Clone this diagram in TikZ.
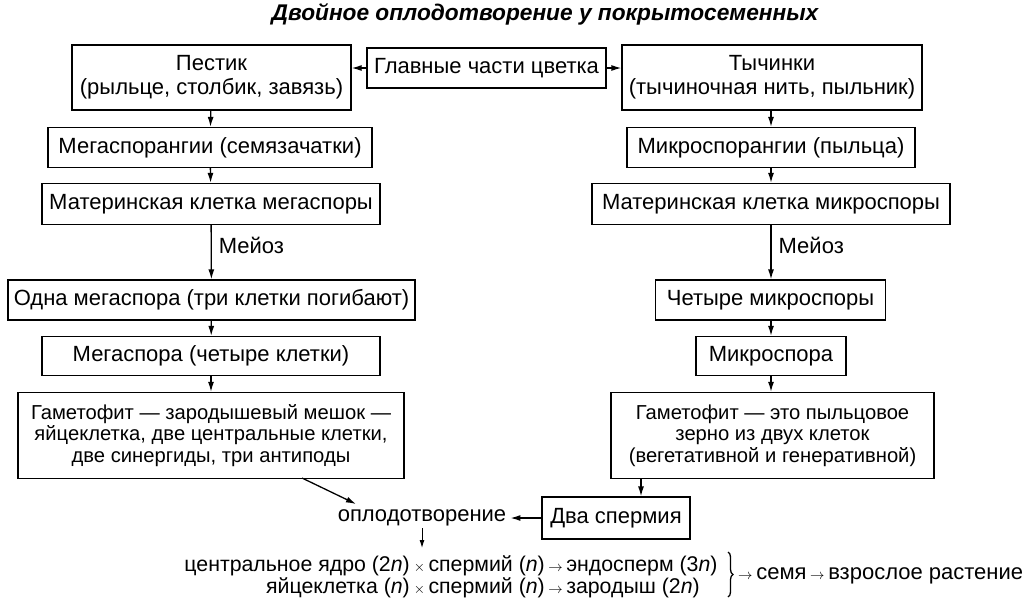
\documentclass[tikz,border=0pt]{standalone}
\usepackage{fontspec}
\setmainfont{Liberation Sans}
\usetikzlibrary{arrows.meta,decorations.pathreplacing}
\newcommand\myfs{\fontsize{22}{24}\selectfont}
\newcommand\gamfs{\fontsize{20.2}{21.5}\selectfont}
\newcommand\smfs{\fontsize{21.3}{22}\selectfont}
\newcommand\sym[1]{{\fontsize{15}{15}\selectfont$#1$}}
\begin{document}
\begin{tikzpicture}[x=1pt,y=-1pt,
  box/.style={draw,line width=1.3pt,inner sep=0pt,align=center,font=\myfs},
  lbl/.style={inner sep=0pt,font=\myfs},
  arr/.style={line width=1.3pt,-{Latex[length=10pt,width=6pt]}},
  frm/.style={inner sep=0pt,font=\smfs}
]
\fill[white] (0,0) rectangle (1024,598);
\useasboundingbox (0,0) rectangle (1024,598);

\node[inner sep=0pt,font=\fontsize{22.7}{24}\selectfont\bfseries\itshape] (title) at (545,14) {Двойное оплодотворение у покрытосеменных};

% row 1
\node[box,minimum width=279pt,minimum height=65pt] (pest) at (211.5,77.5) {Пестик\\(рыльце, столбик, завязь)};
\node[box,minimum width=239pt,minimum height=40pt] (main) at (486.5,68) {Главные части цветка};
\node[box,minimum width=300pt,minimum height=65pt] (tych) at (772,77.5) {Тычинки\\(тычиночная нить, пыльник)};

% left column
\node[box,minimum width=324pt,minimum height=40pt] (mega1) at (210,147.5) {Мегаспорангии (семязачатки)};
\node[box,minimum width=338pt,minimum height=41pt] (mat1) at (211,204) {Материнская клетка мегаспоры};
\node[box,minimum width=407pt,minimum height=40pt] (one) at (211.5,300) {Одна мегаспора (три клетки погибают)};
\node[box,minimum width=338pt,minimum height=39pt] (mega2) at (211,356) {Мегаспора (четыре клетки)};
\node[box,minimum width=386pt,minimum height=86pt,font=\gamfs] (gamL) at (211,435.5) {Гаметофит — зародышевый мешок —\\яйцеклетка, две центральные клетки,\\две синергиды, три антиподы};

% right column
\node[box,minimum width=288pt,minimum height=40pt] (micro1) at (771,147.5) {Микроспорангии (пыльца)};
\node[box,minimum width=358pt,minimum height=41pt] (mat2) at (771,204) {Материнская клетка микроспоры};
\node[box,minimum width=230pt,minimum height=40pt] (four) at (770.5,300) {Четыре микроспоры};
\node[box,minimum width=150pt,minimum height=39pt] (micro2) at (771,356) {Микроспора};
\node[box,minimum width=323pt,minimum height=86pt,font=\gamfs] (gamR) at (772.5,435.5) {Гаметофит — это пыльцовое\\зерно из двух клеток\\(вегетативной и генеративной)};

% bottom
\node[box,minimum width=148pt,minimum height=42pt] (sperm) at (616,518) {Два спермия};
\node[lbl] (fert) at (422,518) {оплодотворение};

\node[frm,anchor=base east] (f1a) at (410,571) {центральное ядро (2\textit{n})};
\node[frm,anchor=base west] (f1b) at (410,571) {\,\sym{\times}\,спермий (\textit{n})\,\sym{\rightarrow}\,эндосперм (3\textit{n})};
\node[frm,anchor=base east] (f2a) at (410,593) {яйцеклетка (\textit{n})};
\node[frm,anchor=base west] (f2b) at (410,593) {\,\sym{\times}\,спермий (\textit{n})\,\sym{\rightarrow}\,зародыш (2\textit{n})};
\coordinate (bt) at (728,552);
\coordinate (bb) at (728,597);
\draw[line width=1.3pt,decorate,decoration={brace,amplitude=5pt}] (bt) -- (bb);
\node[inner sep=0pt,font=\myfs,anchor=west] (seed) at (738,576) {\sym{\rightarrow}\,семя\,\sym{\rightarrow}\,взрослое растение};

% connectors
\draw[arr] (main.west) -- (main.west -| pest.east);
\draw[arr] (main.east) -- (main.east -| tych.west);
\draw[arr] (pest) -- (mega1);
\draw[arr] (mega1) -- (mat1);
\draw[arr] (mat1) -- node[lbl,anchor=west,xshift=7pt,pos=0.38] (meioz1) {Мейоз} (one);
\draw[arr] (one) -- (mega2);
\draw[arr] (mega2) -- (gamL);
\draw[arr] (tych.south -| micro1) -- (micro1);
\draw[arr] (micro1) -- (mat2);
\draw[arr] (mat2.south -| micro1) -- node[lbl,anchor=west,xshift=7pt,pos=0.38] (meioz2) {Мейоз} (four.north -| micro1);
\draw[arr] (four.south -| micro1) -- (micro2);
\draw[arr] (micro2) -- (micro2 |- gamR.north);

\coordinate (gl) at (302,478);
\coordinate (fe) at (356,504);
\draw[arr] (gl) -- (fe);
\coordinate (gr) at (641,478);
\draw[arr] (gr) -- (gr |- sperm.north);
\draw[arr] (sperm.west) -- ([xshift=4pt]fert.east);
\coordinate (fd) at (422,548);
\draw[line width=1pt,-{Latex[length=8pt,width=5pt]}] (fert.south) ++(0,2) -- (fd);
\end{tikzpicture}
\end{document}
